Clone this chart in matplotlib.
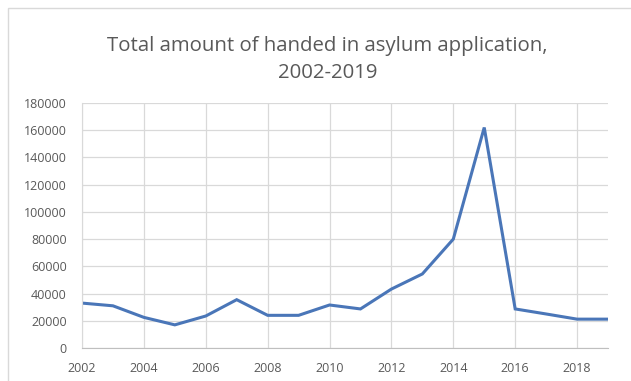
import matplotlib.pyplot as plt
from matplotlib.patches import Rectangle

years = list(range(2002, 2020))
applications = [33000, 31000, 22500, 17000, 23500, 35500, 24000, 24000, 31600,
                28700, 43300, 54400, 80000, 162000, 28700, 25000, 21200, 21200]
x_ticks = list(range(2002, 2019, 2))
y_ticks = list(range(0, 180001, 20000))

plt.rcParams['font.family'] = ['Open Sans', 'DejaVu Sans']

fig = plt.figure(figsize=(6.31, 3.81), dpi=100)
fig.patches.append(Rectangle((8 / 631, -0.1), 1.2, 1 - 8 / 381 + 0.1, transform=fig.transFigure,
                             fill=False, edgecolor='#d9d9d9', linewidth=1))
ax = fig.add_axes([82 / 631, 1 - 348 / 381, (608 - 82) / 631, (348 - 103) / 381])

ax.plot(years, applications, color='#4a76b8', linewidth=2.2, solid_joinstyle='miter')

ax.set_xlim(2002, 2019)
ax.set_ylim(0, 180000)
ax.set_xticks(x_ticks)
ax.set_yticks(y_ticks)
ax.grid(True, color='#d9d9d9', linewidth=0.9)
ax.set_axisbelow(True)
for side in ['top', 'right']:
    ax.spines[side].set_visible(False)
ax.spines['left'].set_color('#d9d9d9')
ax.spines['bottom'].set_color('#bfbfbf')
ax.tick_params(length=0, labelsize=9, labelcolor='#595959')
ax.tick_params(axis='y', pad=11)
ax.tick_params(axis='x', pad=10)

fig.text(0.519, 0.844, 'Total amount of handed in asylum application,\n2002-2019',
         ha='center', va='center', fontsize=14.7, color='#595959', linespacing=1.45)

fig.savefig('out.png', dpi=100)
